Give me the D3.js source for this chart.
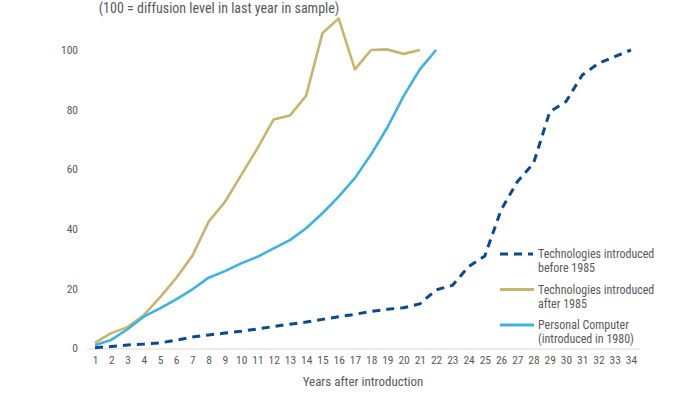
<!DOCTYPE html>
<html>

<head>
    <script src="https://d3js.org/d3.v7.min.js"></script>
    <style>
        body { margin: 0; background: #fff; }
        text { font-family: "Roboto Condensed", "Liberation Sans Narrow", "DejaVu Sans Condensed", Roboto, sans-serif; fill: #595959; }
    </style>
</head>

<body>
    <svg id="chart" width="700" height="394"></svg>

    <script>
        // years after introduction
        const years = d3.range(1, 35);
        const yTicks = [0, 20, 40, 60, 80, 100];

        // technologies introduced before 1985 (years 1..34)
        const before1985 = [0.1, 0.5, 1, 1.3, 1.7, 2.6, 3.7, 4.4, 5, 5.6, 6.4, 7.2, 8, 8.7, 9.6, 10.5, 11.3,
            12.3, 13, 13.5, 14.8, 19.5, 21, 27.3, 30.9, 46.3, 55.8, 62, 79.3, 82.7, 91.6, 95.5, 97.8, 100];
        // technologies introduced after 1985 (years 1..21)
        const after1985 = [1.8, 5, 7, 11, 17, 23.5, 31, 42.4, 49, 58, 67, 76.7, 78, 84.7, 105.6, 110.6,
            93.5, 100, 100.2, 98.7, 100];
        // personal computer (years 1..22)
        const personalComputer = [1, 2.7, 6.3, 10.5, 13.3, 16.3, 19.7, 23.6, 25.8, 28.4, 30.6, 33.4, 36.2,
            40.2, 45.2, 50.8, 57, 65, 74, 84.5, 93.5, 100];

        const legendNames = [["Technologies introduced", "before 1985"], ["Technologies introduced", "after 1985"],
            ["Personal Computer", "(introduced in 1980)"]];

        const svg = d3.select("#chart");

        const x = d3.scaleLinear().domain([1, 34]).range([95, 631]);
        const y = d3.scaleLinear().domain([0, 100]).range([348, 50]);

        // title
        svg.append("text")
            .attr("x", 219).attr("y", 13)
            .attr("text-anchor", "middle")
            .style("font-size", "14px")
            .text("(100 = diffusion level in last year in sample)");

        // baseline
        svg.append("line")
            .attr("x1", 87).attr("x2", 640)
            .attr("y1", y(0) + 1).attr("y2", y(0) + 1)
            .attr("stroke", "#d9d9d9").attr("stroke-width", 1);

        // y axis labels
        const leftAxis = d3.axisLeft(y).tickValues(yTicks).tickSize(0).tickPadding(0);
        svg.append("g")
            .attr("transform", "translate(78,0)")
            .call(leftAxis)
            .call(g => g.select(".domain").remove())
            .selectAll("text")
            .style("font-size", "11.5px")
            .attr("fill", "#595959");

        // x axis labels
        const bottomAxis = d3.axisBottom(x).tickValues(years).tickFormat(d3.format("d")).tickSize(0).tickPadding(0);
        svg.append("g")
            .attr("transform", "translate(0,356)")
            .call(bottomAxis)
            .call(g => g.select(".domain").remove())
            .selectAll("text")
            .style("font-size", "11.5px")
            .attr("fill", "#595959");

        svg.append("text")
            .attr("x", 363).attr("y", 386)
            .attr("text-anchor", "middle")
            .style("font-size", "13px")
            .text("Years after introduction");

        const line = d3.line()
            .x((d, i) => x(i + 1))
            .y(d => y(d));

        const series = [
            { data: before1985, color: "#0b4a92", dash: "8,6" },
            { data: after1985, color: "#c8b56a", dash: null },
            { data: personalComputer, color: "#3db2e3", dash: null }
        ];

        svg.selectAll("path.series").data(series)
            .join("path")
            .attr("class", "series")
            .attr("d", d => line(d.data))
            .attr("fill", "none")
            .attr("stroke", d => d.color)
            .attr("stroke-width", d => d.dash ? 3 : 2.6)
            .attr("stroke-dasharray", d => d.dash)
            .attr("stroke-linejoin", "round");

        // legend
        const legend = svg.selectAll("g.legend").data(series)
            .join("g")
            .attr("class", "legend")
            .attr("transform", (d, i) => `translate(500,${254 + i * 35.5})`);

        legend.append("line")
            .attr("x1", 0).attr("x2", d => d.dash ? 33 : 34)
            .attr("y1", 0).attr("y2", 0)
            .attr("stroke", d => d.color)
            .attr("stroke-width", 3)
            .attr("stroke-dasharray", d => d.dash);

        legend.append("text")
            .attr("x", 38).attr("y", 4)
            .style("font-size", "12px")
            .selectAll("tspan").data((d, i) => legendNames[i])
            .join("tspan")
            .attr("x", 38)
            .attr("dy", (d, i) => i === 0 ? 0 : 14)
            .text(d => d);
    </script>

</body>

</html>
